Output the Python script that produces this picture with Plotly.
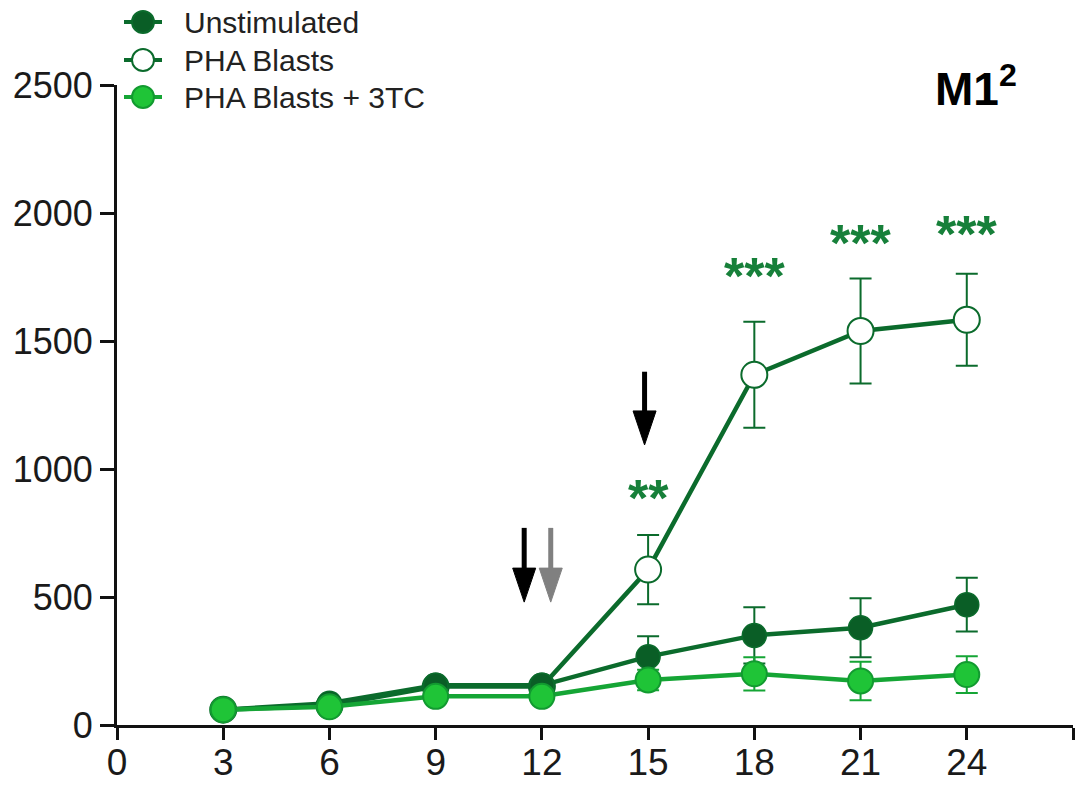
import plotly.graph_objects as go

# ---------------- data ----------------
days = [3, 6, 9, 12, 15, 18, 21, 24]

unstim = [60, 85, 155, 155, 267, 350, 380, 470]
unstim_err = [10, 10, 15, 15, 80, 110, 115, 105]

pha = [60, 75, 150, 150, 607, 1368, 1539, 1583]
pha_err = [10, 10, 15, 15, 135, 207, 205, 180]

pha3tc = [60, 71, 112, 112, 176, 200, 172, 197]
pha3tc_err = [10, 10, 15, 15, 40, 65, 75, 72]

x_tickvals = [0, 3, 6, 9, 12, 15, 18, 21, 24]
x_ticktext = ["0", "3", "6", "9", "12", "15", "18", "21", "24"]
x_end_tick = [27]
y_tickvals = [0, 500, 1000, 1500, 2000, 2500]

# significance marks (x, y, text)
sig_x = [15, 18, 21, 24]
sig_y = [910, 1777, 1907, 1941]
sig_text = ["**", "***", "***", "***"]

# arrows (x, top value, tip value, colour)
arrow_x = [11.5, 12.25, 14.9]
arrow_top = [770, 770, 1380]
arrow_tip = [480, 480, 1094]
arrow_col = ["#000000", "#808080", "#000000"]

series_names = ["Unstimulated", "PHA Blasts", "PHA Blasts + 3TC"]

# ---------------- style ----------------
W, H = 1089, 785
ML, MT = 117, 85
MR = W - 1073
MB = H - 725
XR = [0, 27]
YR = [0, 2500]
PW = W - ML - MR
PH = H - MT - MB
px_per_x = PW / (XR[1] - XR[0])
px_per_y = PH / (YR[1] - YR[0])


def sx_paper(px):
    return (px - ML) / PW


def sy_paper(py):
    return ((MT + PH) - py) / PH


DARK = "#0b6b2c"
DARK_FILL = "#0a5e26"
BRIGHT_FILL = "#1fc437"
BRIGHT_EDGE = "#129a30"
BRIGHT_LINE = "#15a535"
STAR = "#17803a"
FONT = "Liberation Sans, Arial, sans-serif"

fig = go.Figure()

fig.add_trace(go.Scatter(
    x=days, y=pha, mode="lines+markers", name=series_names[1],
    line=dict(color=DARK, width=4.5),
    marker=dict(size=26, color="white", line=dict(color=DARK, width=2)),
    error_y=dict(type="data", array=pha_err, color=DARK, thickness=2, width=11),
    showlegend=False, cliponaxis=False))

fig.add_trace(go.Scatter(
    x=days, y=unstim, mode="lines+markers", name=series_names[0],
    line=dict(color=DARK, width=4.5),
    marker=dict(size=24, color=DARK_FILL, line=dict(color=DARK, width=1.5)),
    error_y=dict(type="data", array=unstim_err, color=DARK, thickness=2, width=11),
    showlegend=False, cliponaxis=False))

fig.add_trace(go.Scatter(
    x=days, y=pha3tc, mode="lines+markers", name=series_names[2],
    line=dict(color=BRIGHT_LINE, width=4.5),
    marker=dict(size=25, color=BRIGHT_FILL, line=dict(color=BRIGHT_EDGE, width=2)),
    error_y=dict(type="data", array=pha3tc_err, color=BRIGHT_LINE, thickness=2, width=11),
    showlegend=False, cliponaxis=False))

# arrows: shaft + elongated head
HEAD_H = 34 / px_per_y
HEAD_HW = 11.5 / px_per_x
for ax_, top, tip, col in zip(arrow_x, arrow_top, arrow_tip, arrow_col):
    fig.add_trace(go.Scatter(
        x=[ax_, ax_], y=[top, tip + HEAD_H * 0.8], mode="lines",
        line=dict(color=col, width=5), showlegend=False, hoverinfo="skip"))
    fig.add_trace(go.Scatter(
        x=[ax_ - HEAD_HW, ax_ + HEAD_HW, ax_, ax_ - HEAD_HW],
        y=[tip + HEAD_H, tip + HEAD_H, tip, tip + HEAD_H],
        mode="lines", fill="toself", fillcolor=col,
        line=dict(color=col, width=1), showlegend=False, hoverinfo="skip"))

annotations = []
for sx, sy, st in zip(sig_x, sig_y, sig_text):
    annotations.append(dict(
        x=sx, y=sy, xref="x", yref="y", text="<b>" + st + "</b>",
        showarrow=False, font=dict(family=FONT, size=52, color=STAR),
        xanchor="center", yanchor="middle", yshift=-6))

# M1^2 label
annotations.append(dict(
    x=sx_paper(933), y=sy_paper(86), xref="paper", yref="paper",
    text="<b>M1<sup>2</sup></b>", showarrow=False,
    font=dict(family=FONT, size=46, color="#000000"),
    xanchor="left", yanchor="middle"))

# custom legend
leg_rows_px = [22, 60, 97]
leg_marker_px = 143
leg_text_px = 182
leg_styles = [
    dict(fill=DARK_FILL, edge=DARK, line=DARK),
    dict(fill="white", edge=DARK, line=DARK),
    dict(fill=BRIGHT_FILL, edge=BRIGHT_EDGE, line=BRIGHT_LINE),
]
shapes = []
for idx, row in enumerate(leg_rows_px):
    st = leg_styles[idx]
    xp = sx_paper(leg_marker_px)
    yp = sy_paper(row)
    shapes.append(dict(type="line", xref="paper", yref="paper",
                       xsizemode="pixel", ysizemode="pixel",
                       xanchor=xp, yanchor=yp, x0=-19, x1=19, y0=0, y1=0,
                       line=dict(color=st["line"], width=4)))
    shapes.append(dict(type="circle", xref="paper", yref="paper",
                       xsizemode="pixel", ysizemode="pixel",
                       xanchor=xp, yanchor=yp, x0=-11, x1=11, y0=-11, y1=11,
                       fillcolor=st["fill"], line=dict(color=st["edge"], width=2)))
    annotations.append(dict(
        x=sx_paper(leg_text_px), y=yp, xref="paper", yref="paper",
        text=series_names[idx], showarrow=False,
        font=dict(family=FONT, size=30, color="#222222"),
        xanchor="left", yanchor="middle"))

fig.update_layout(
    width=W, height=H,
    margin=dict(l=ML, r=MR, t=MT, b=MB, autoexpand=False),
    paper_bgcolor="white", plot_bgcolor="white",
    showlegend=False,
    annotations=annotations, shapes=shapes,
    xaxis=dict(range=XR, tickvals=x_tickvals, ticktext=x_ticktext,
               showline=True, linewidth=3, linecolor="#111111",
               ticks="outside", ticklen=12, tickwidth=3, tickcolor="#111111",
               ticklabelstandoff=-9,
               minor=dict(tickvals=x_end_tick, ticks="outside", ticklen=12,
                          tickwidth=3, tickcolor="#111111", showgrid=False),
               showgrid=False, zeroline=False, automargin=False,
               tickfont=dict(family=FONT, size=37, color="#1a1a1a")),
    yaxis=dict(range=YR, tickvals=y_tickvals,
               showline=True, linewidth=3, linecolor="#111111",
               ticks="outside", ticklen=14, tickwidth=3, tickcolor="#111111",
               showgrid=False, zeroline=False, automargin=False,
               tickfont=dict(family=FONT, size=36, color="#1a1a1a")),
)

# remove the browser's default 8 px body margin so the figure fills the window
fig.write_html("out.html", config={"displayModeBar": False},
               post_script="document.body.style.margin='0px';")
